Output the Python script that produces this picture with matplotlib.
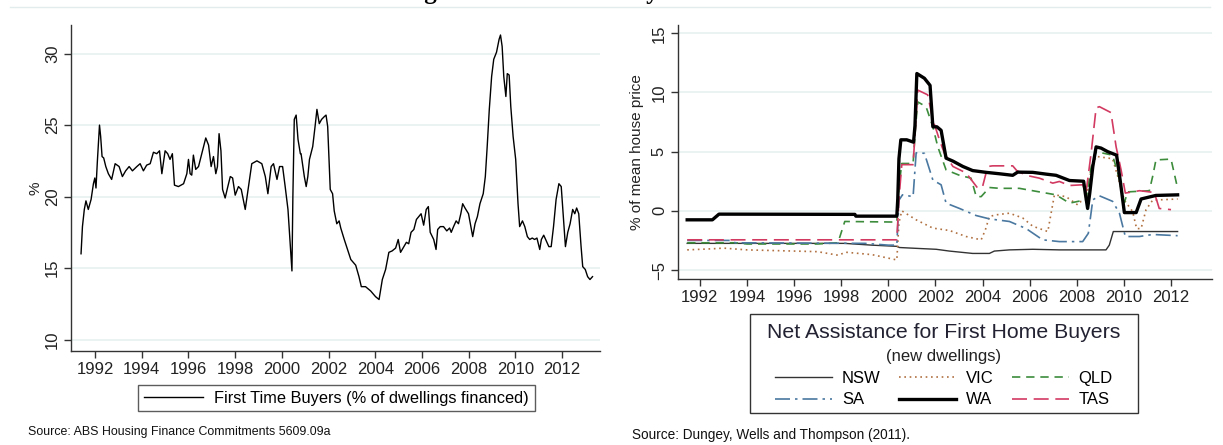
import matplotlib
matplotlib.use("Agg")
import matplotlib.pyplot as plt
from matplotlib.lines import Line2D
from matplotlib.patches import Rectangle

plt.rcParams['font.family'] = ['Liberation Sans', 'DejaVu Sans']

# ---------------- Left panel data: First time buyers (% of dwellings financed)
fhb_year = [1991.40, 1991.46, 1991.54, 1991.61, 1991.71, 1991.83, 1991.93, 1991.99, 1992.04, 1992.10,
            1992.19, 1992.24, 1992.30, 1992.37, 1992.46, 1992.57, 1992.71, 1992.86, 1993.03, 1993.17,
            1993.31, 1993.46, 1993.60, 1993.79, 1993.93, 1994.07, 1994.21, 1994.36, 1994.50, 1994.64,
            1994.76, 1994.86, 1995.00, 1995.11, 1995.21, 1995.31, 1995.40, 1995.57, 1995.79, 1995.93,
            1996.00, 1996.07, 1996.14, 1996.21, 1996.31, 1996.43, 1996.57, 1996.74, 1996.86, 1996.97,
            1997.07, 1997.17, 1997.24, 1997.31, 1997.39, 1997.46, 1997.57, 1997.67, 1997.79, 1997.89,
            1998.00, 1998.14, 1998.26, 1998.43, 1998.57, 1998.71, 1998.93, 1999.14, 1999.29, 1999.40,
            1999.54, 1999.64, 1999.79, 1999.90, 2000.03, 2000.14, 2000.26, 2000.36, 2000.43, 2000.47,
            2000.53, 2000.61, 2000.69, 2000.79, 2000.82, 2000.96, 2001.04, 2001.11, 2001.18, 2001.32,
            2001.42, 2001.50, 2001.60, 2001.70, 2001.82, 2001.89, 2001.96, 2002.07, 2002.17, 2002.24,
            2002.35, 2002.45, 2002.52, 2002.67, 2002.81, 2002.95, 2003.16, 2003.30, 2003.40, 2003.58,
            2003.80, 2004.01, 2004.16, 2004.30, 2004.44, 2004.58, 2004.72, 2004.87, 2004.98, 2005.08,
            2005.22, 2005.33, 2005.43, 2005.53, 2005.65, 2005.76, 2005.86, 2005.96, 2006.07, 2006.18,
            2006.27, 2006.35, 2006.50, 2006.60, 2006.67, 2006.78, 2006.92, 2007.06, 2007.18, 2007.25,
            2007.35, 2007.46, 2007.56, 2007.66, 2007.74, 2007.84, 2007.99, 2008.09, 2008.17, 2008.27,
            2008.37, 2008.48, 2008.62, 2008.71, 2008.79, 2008.88, 2008.98, 2009.07, 2009.19, 2009.30,
            2009.36, 2009.43, 2009.50, 2009.59, 2009.65, 2009.73, 2009.80, 2009.90, 2010.01, 2010.11,
            2010.18, 2010.30, 2010.40, 2010.51, 2010.61, 2010.72, 2010.82, 2010.92, 2011.04, 2011.11,
            2011.21, 2011.32, 2011.43, 2011.53, 2011.63, 2011.74, 2011.86, 2011.96, 2012.03, 2012.14,
            2012.24, 2012.34, 2012.45, 2012.54, 2012.62, 2012.71, 2012.81, 2012.88, 2012.99, 2013.09,
            2013.19, 2013.30]
fhb_value = [16.0, 17.9, 19.1, 19.7, 19.1, 19.8, 20.9, 21.3, 20.6, 22.5,
             25.0, 24.2, 22.8, 22.7, 22.1, 21.6, 21.2, 22.3, 22.1, 21.4,
             21.8, 22.1, 21.8, 22.1, 22.3, 21.8, 22.2, 22.3, 23.1, 23.0,
             23.2, 21.6, 23.2, 23.0, 22.6, 23.0, 20.8, 20.7, 20.9, 21.6,
             22.6, 21.6, 21.5, 22.9, 21.9, 22.1, 23.0, 24.1, 23.6, 22.1,
             22.8, 21.6, 22.1, 24.4, 23.2, 20.5, 19.9, 20.6, 21.4, 21.3,
             20.1, 20.7, 20.5, 19.1, 20.7, 22.3, 22.5, 22.3, 21.4, 20.2,
             22.1, 22.3, 21.2, 22.1, 22.1, 20.7, 19.1, 16.5, 14.8, 20.0,
             25.4, 25.7, 24.0, 23.0, 23.0, 21.4, 20.7, 21.4, 22.6, 23.5,
             24.9, 26.1, 25.1, 25.4, 25.6, 25.7, 24.9, 20.5, 20.2, 19.0,
             18.1, 18.3, 17.8, 17.0, 16.3, 15.6, 15.2, 14.4, 13.7, 13.7,
             13.4, 13.0, 12.8, 14.2, 14.9, 16.1, 16.2, 16.4, 17.0, 16.1,
             16.5, 16.8, 16.7, 17.5, 17.7, 18.4, 18.6, 18.8, 18.0, 19.1,
             19.3, 17.5, 17.0, 16.3, 17.7, 17.9, 17.9, 17.6, 17.8, 17.5,
             17.9, 18.3, 18.1, 18.8, 19.5, 19.2, 18.8, 17.9, 17.2, 18.1,
             18.6, 19.5, 20.2, 21.4, 23.5, 26.1, 28.4, 29.6, 30.1, 31.0,
             31.3, 30.5, 28.4, 27.0, 28.6, 28.5, 26.3, 24.2, 22.6, 19.5,
             17.9, 18.3, 17.9, 17.2, 17.0, 17.1, 17.0, 17.1, 16.3, 17.0,
             17.3, 16.9, 16.5, 16.5, 17.9, 19.8, 20.9, 20.7, 19.1, 16.5,
             17.5, 18.1, 19.1, 18.8, 19.2, 18.8, 16.5, 15.1, 14.9, 14.4,
             14.2, 14.4]

# ---------------- Right panel data: Net assistance (% of mean house price)
nsw_year = [1991.46, 1998.15, 1999.30, 2000.36, 2000.47, 2001.18, 2002.03, 2002.59, 2003.58, 2004.29,
            2004.50, 2005.14, 2006.13, 2007.26, 2009.24, 2009.38, 2009.55, 2012.28]
nsw_value = [-2.75, -2.75, -2.9, -3.0, -3.1, -3.17, -3.25, -3.4, -3.6, -3.6,
             -3.4, -3.3, -3.25, -3.3, -3.3, -2.9, -1.75, -1.75]

vic_year = [1991.46, 1992.60, 1993.00, 1994.00, 1997.00, 1997.86, 1998.20, 1999.30, 2000.36, 2000.45,
            2000.57, 2001.18, 2001.89, 2002.59, 2003.30, 2003.94, 2004.12, 2004.29, 2004.57, 2005.14,
            2005.70, 2006.13, 2006.77, 2006.91, 2007.05, 2007.54, 2008.04, 2008.18, 2008.39, 2008.61,
            2008.82, 2009.52, 2009.74, 2010.02, 2010.37, 2010.54, 2010.73, 2010.94, 2011.22, 2012.28]
vic_value = [-3.3, -3.2, -3.15, -3.3, -3.45, -3.75, -3.5, -3.7, -4.15, -1.0,
             0.0, -0.76, -1.46, -1.66, -2.17, -2.45, -1.6, -0.48, -0.34, -0.2,
             -0.6, -1.3, -1.75, -0.2, 1.35, 1.2, 0.5, 0.8, 0.9, 3.46,
             4.6, 4.4, 2.9, 0.9, -0.06, -1.5, -1.5, 0.1, 0.9, 1.0]

qld_year = [1991.46, 1993.50, 1994.00, 1997.00, 1997.86, 1998.15, 2000.36, 2000.45, 2000.57, 2001.05,
            2001.15, 2001.25, 2001.60, 2001.89, 2002.10, 2002.45, 2003.02, 2003.51, 2003.73, 2003.94,
            2004.29, 2004.72, 2005.56, 2006.41, 2007.12, 2007.69, 2008.18, 2008.39, 2008.61, 2008.82,
            2009.52, 2009.74, 2010.02, 2010.16, 2011.08, 2011.22, 2011.36, 2012.00, 2012.28]
qld_value = [-2.7, -2.7, -2.8, -2.8, -2.7, -0.9, -0.95, 2.0, 4.0, 4.0,
             7.0, 9.2, 8.8, 7.1, 5.4, 3.46, 3.0, 2.76, 1.2, 1.2,
             1.97, 1.9, 1.9, 1.6, 1.35, 0.65, 0.85, 0.9, 3.7, 5.0,
             4.7, 3.2, 0.7, 1.6, 1.7, 2.9, 4.3, 4.37, 1.9]

sa_year = [1991.46, 1993.30, 1993.50, 1999.00, 2000.00, 2000.36, 2000.45, 2000.60, 2001.05, 2001.18,
           2001.53, 2001.89, 2002.24, 2002.45, 2003.02, 2003.73, 2004.29, 2005.14, 2005.85, 2006.55,
           2007.26, 2008.25, 2008.49, 2008.68, 2008.96, 2009.52, 2009.81, 2010.06, 2010.66, 2011.22,
           2012.28]
sa_value = [-2.5, -2.5, -2.7, -2.75, -2.9, -2.9, 0.9, 1.35, 1.2, 4.9,
            4.86, 2.6, 2.2, 0.65, 0.2, -0.4, -0.68, -0.9, -1.5, -2.45,
            -2.6, -2.6, -1.9, 0.93, 1.27, 0.8, -0.2, -2.17, -2.17, -2.0,
            -2.1]

wa_year = [1991.46, 1992.53, 1992.81, 1998.58, 1998.62, 2000.36, 2000.40, 2000.45, 2000.53, 2000.78,
           2001.07, 2001.13, 2001.21, 2001.53, 2001.77, 2001.89, 2002.06, 2002.24, 2002.45, 2002.74,
           2003.16, 2003.58, 2004.15, 2004.72, 2005.28, 2005.49, 2006.13, 2006.70, 2007.12, 2007.69,
           2008.29, 2008.36, 2008.46, 2008.55, 2008.68, 2008.82, 2009.03, 2009.31, 2009.69, 2009.84,
           2010.02, 2010.52, 2010.73, 2011.36, 2012.28]
wa_value = [-0.76, -0.76, -0.28, -0.3, -0.45, -0.45, 1.0, 4.4, 6.0, 6.0,
            5.8, 7.2, 11.6, 11.2, 10.6, 7.1, 7.1, 6.8, 4.45, 4.2,
            3.75, 3.4, 3.25, 3.13, 3.0, 3.27, 3.25, 3.1, 3.0, 2.56,
            2.5, 1.5, 0.2, 1.5, 3.75, 5.4, 5.3, 5.0, 4.7, 2.6,
            -0.15, -0.15, 1.0, 1.3, 1.35]

tas_year = [1991.46, 2000.36, 2000.45, 2000.57, 2001.05, 2001.25, 2001.67, 2001.89, 2002.17, 2002.38,
            2002.74, 2003.30, 2003.80, 2004.00, 2004.22, 2004.43, 2005.28, 2005.45, 2005.85, 2006.41,
            2006.98, 2007.26, 2007.69, 2008.25, 2008.39, 2008.61, 2008.82, 2008.96, 2009.45, 2009.67,
            2009.88, 2010.06, 2010.66, 2011.29, 2011.50, 2012.00]
tas_value = [-2.45, -2.45, 1.0, 3.9, 3.9, 10.2, 9.8, 7.7, 6.0, 4.86,
             3.75, 3.2, 1.9, 2.05, 3.75, 3.8, 3.8, 3.4, 3.0, 2.76,
             2.34, 2.48, 2.14, 2.2, 1.5, 4.9, 8.7, 8.8, 8.3, 5.4,
             3.46, 1.5, 1.7, 1.55, 0.2, 0.1]

year_ticks = [1992, 1994, 1996, 1998, 2000, 2002, 2004, 2006, 2008, 2010, 2012]
left_yticks = [10, 15, 20, 25, 30]
right_yticks = [-5, 0, 5, 10, 15]

W, H = 1223, 445
fig = plt.figure(figsize=(W / 100, H / 100), dpi=100)

grid_col = '#e8f0f0'
tick_fs = 12

def style_axes(ax):
    for s in ['top', 'right']:
        ax.spines[s].set_visible(False)
    for s in ['left', 'bottom']:
        ax.spines[s].set_color('#333333')
        ax.spines[s].set_linewidth(1.0)
    ax.tick_params(axis='both', direction='out', length=5, width=1.0, color='#333333',
                   labelsize=tick_fs, labelcolor='#222222', pad=3)
    ax.grid(axis='y', color=grid_col, linewidth=1.2)
    ax.set_axisbelow(True)
    for lab in ax.get_yticklabels():
        lab.set_rotation(90)
        lab.set_va('center')

# ---------------- Left axes
axL = fig.add_axes([71 / W, 1 - 351 / H, (600 - 71) / W, (351 - 25) / H])
lineL, = axL.plot(fhb_year, fhb_value, color='black', linewidth=1.0)
axL.set_xlim(1990.97, 2013.62)
axL.set_ylim(9.2, 32.0)
axL.set_xticks(year_ticks)
axL.set_yticks(left_yticks)
style_axes(axL)
axL.set_ylabel('%', fontsize=11, color='#222222', labelpad=2)
legL = fig.legend([lineL], ['First Time Buyers (% of dwellings financed)'], loc='center',
                  bbox_to_anchor=(336.5 / W, 1 - 398 / H), frameon=True, fancybox=False,
                  edgecolor='#333333', fontsize=11.8, handlelength=3.6, handletextpad=0.7,
                  borderpad=0.35)
legL.get_frame().set_linewidth(1.0)

# ---------------- Right axes
axR = fig.add_axes([678 / W, 1 - 279 / H, (1212 - 678) / W, (279 - 25) / H])
col_nsw, col_vic, col_qld = '#333333', '#b07040', '#3c8c3c'
col_sa, col_wa, col_tas = '#4a78a0', '#000000', '#d23a62'
h_nsw, = axR.plot(nsw_year, nsw_value, color=col_nsw, linewidth=1.0, linestyle='-')
h_vic, = axR.plot(vic_year, vic_value, color=col_vic, linewidth=1.2, linestyle=(0, (1, 2.2)))
h_qld, = axR.plot(qld_year, qld_value, color=col_qld, linewidth=1.2, linestyle=(0, (5, 3.5)))
h_sa, = axR.plot(sa_year, sa_value, color=col_sa, linewidth=1.2, linestyle=(0, (9, 3, 1.5, 3)))
h_tas, = axR.plot(tas_year, tas_value, color=col_tas, linewidth=1.2, linestyle=(0, (9, 4)))
h_wa, = axR.plot(wa_year, wa_value, color=col_wa, linewidth=2.4, linestyle='-')
axR.set_xlim(1991.07, 2013.74)
axR.set_ylim(-5.76, 15.7)
axR.set_xticks(year_ticks)
axR.set_yticks(right_yticks)
style_axes(axR)
axR.set_ylabel('% of mean house price', fontsize=11, color='#222222', labelpad=6)

# legend frame, title and subtitle
fig.add_artist(Rectangle((750 / W, 1 - 413 / H), (1138 - 750) / W, (413 - 314) / H,
                         transform=fig.transFigure, facecolor='white', edgecolor='#333333',
                         linewidth=1.0, zorder=4))
fig.text(944 / W, 1 - 332 / H, 'Net Assistance for First Home Buyers', ha='center', va='center',
         fontsize=15.3, color='#222233', zorder=6)
fig.text(944 / W, 1 - 357 / H, '(new dwellings)', ha='center', va='center',
         fontsize=12, color='#222222', zorder=6)
legR = fig.legend([h_nsw, h_sa, h_vic, h_wa, h_qld, h_tas],
                  ['NSW', 'SA', 'VIC', 'WA', 'QLD', 'TAS'],
                  ncol=3, loc='center', bbox_to_anchor=(944 / W, 1 - 389 / H),
                  frameon=False, fontsize=12, handlelength=3.4, handletextpad=0.6,
                  columnspacing=1.1, labelspacing=0.4, borderpad=0.0)
legR.set_zorder(6)

# ---------------- Figure texts
fig.text(28 / W, 1 - 432 / H, 'Source: ABS Housing Finance Commitments 5609.09a',
         ha='left', va='center', fontsize=8.9, color='#111111')
fig.text(632 / W, 1 - 435 / H, 'Source: Dungey, Wells and Thompson (2011).',
         ha='left', va='center', fontsize=9.8, color='#111111')
fig.text(612 / W, 1 + 1.5 / H, 'Figure 7: First-time buyers in Australia', ha='center',
         va='baseline', fontsize=18, fontweight='bold', family='Liberation Serif', color='black')
fig.add_artist(Line2D([10 / W, 1210 / W], [1 - 7 / H, 1 - 7 / H], color='#e3ecec', linewidth=1.0))

fig.savefig('out.png', dpi=100)
